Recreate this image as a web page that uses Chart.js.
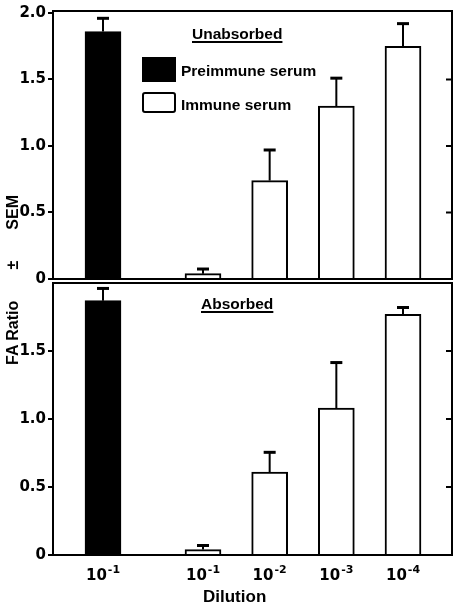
<!DOCTYPE html>
<html>
<head>
<meta charset="utf-8">
<script src="https://cdn.jsdelivr.net/npm/chart.js@4.4.1/dist/chart.umd.min.js"></script>
<style>
  html, body { margin: 0; padding: 0; background: #fff; }
  #wrap { position: relative; width: 455px; height: 607px; overflow: hidden;
          font-family: "Liberation Sans", Arial, sans-serif; font-weight: bold; color: #000; }
  #wrap canvas { position: absolute; left: 0; }
  #topChart { top: 0; }
  #botChart { top: 270px; }
  .lbl { position: absolute; line-height: 1; white-space: pre; }
  .panelTitle { font-size: 15.5px; text-decoration: underline; text-decoration-thickness: 2px; text-underline-offset: 2px; }
  .legText { font-size: 15.5px; }
  .box { position: absolute; box-sizing: border-box; }
</style>
</head>
<body>
<div id="wrap">
  <canvas id="topChart" width="455" height="290"></canvas>
  <canvas id="botChart" width="455" height="337"></canvas>

  <div class="lbl panelTitle" style="left:192px; top:26px;">Unabsorbed</div>
  <div class="lbl panelTitle" style="left:201px; top:296px;">Absorbed</div>

  <div class="box" style="left:142px; top:57px; width:34px; height:25px; background:#000;"></div>
  <div class="lbl legText" style="left:181px; top:63px;">Preimmune serum</div>
  <div class="box" style="left:142px; top:92px; width:34px; height:21px; border:2px solid #000; border-radius:3px;"></div>
  <div class="lbl legText" style="left:181px; top:97px;">Immune serum</div>

  <div class="lbl" style="left:13px; top:280px; font-size:16px; transform: translate(-50%, -50%) rotate(-90deg);">FA Ratio       ±       SEM</div>
  <div class="lbl" style="left:203px; top:588px; font-size:17px;">Dilution</div>
</div>

<script>
// Datos del gráfico
const dilutionBase = ['10', '10', '10', '10', '10'];
const dilutionExp = ['-1', '-1', '-2', '-3', '-4'];
const barSlots = [1, 2.5, 3.5, 4.5, 5.5];   // posición en el eje (hueco tras el preinmune)

// Panel superior: sin absorber
const preUnabs = [1.86];
const preUnabsErr = [0.10];
const immUnabs = [0.04, 0.74, 1.30, 1.75];
const immUnabsErr = [0.035, 0.23, 0.21, 0.17];

// Panel inferior: absorbido
const preAbs = [1.87];
const preAbsErr = [0.09];
const immAbs = [0.04, 0.61, 1.08, 1.77];
const immAbsErr = [0.03, 0.145, 0.335, 0.05];

// Ticks del eje Y
const topTickValues = [0, 0.5, 1, 1.5, 2];
const topTickLabels = ['0', '0.5', '1.0', '1.5', '2.0'];
const botTickValues = [0, 0.5, 1, 1.5];
const botTickLabels = ['0', '0.5', '1.0', '1.5'];

const numFont = { family: 'DejaVu Sans', weight: 'bold', size: 15 };

// Barras de error, marco y ticks interiores a la derecha
const frameAndErrors = {
  id: 'frameAndErrors',
  afterDatasetsDraw(chart) {
    const ctx = chart.ctx;
    const y = chart.scales.y;
    const a = chart.chartArea;
    ctx.save();
    ctx.strokeStyle = '#000';
    chart.data.datasets.forEach((ds, i) => {
      chart.getDatasetMeta(i).data.forEach((bar, j) => {
        const top = y.getPixelForValue(ds.data[j].y + ds.errors[j]);
        ctx.lineWidth = 2;
        ctx.beginPath();
        ctx.moveTo(bar.x, bar.y);
        ctx.lineTo(bar.x, top);
        ctx.stroke();
        ctx.lineWidth = 3;
        ctx.beginPath();
        ctx.moveTo(bar.x - 6, top);
        ctx.lineTo(bar.x + 6, top);
        ctx.stroke();
      });
    });
    ctx.lineWidth = 2;
    ctx.strokeRect(a.left, a.top, a.right - a.left, a.bottom - a.top);
    y.ticks.forEach(t => {
      if (t.value > 0 && t.value < 2) {
        const py = y.getPixelForValue(t.value);
        ctx.beginPath();
        ctx.moveTo(a.right - 6, py);
        ctx.lineTo(a.right, py);
        ctx.stroke();
      }
    });
    ctx.restore();
  }
};

// Etiquetas de dilución con exponente (10 elevado a -n)
const dilutionTicks = {
  id: 'dilutionTicks',
  afterDraw(chart) {
    const ctx = chart.ctx;
    const x = chart.scales.x;
    const base = chart.chartArea.bottom;
    ctx.save();
    ctx.fillStyle = '#000';
    ctx.textBaseline = 'alphabetic';
    barSlots.forEach((slot, i) => {
      const px = x.getPixelForValue(slot);
      ctx.font = 'bold 15px "DejaVu Sans"';
      const w1 = ctx.measureText(dilutionBase[i]).width;
      ctx.font = 'bold 11px "DejaVu Sans"';
      const w2 = ctx.measureText(dilutionExp[i]).width;
      const start = px - (w1 + 1 + w2) / 2;
      ctx.font = 'bold 15px "DejaVu Sans"';
      ctx.fillText(dilutionBase[i], start, base + 25);
      ctx.font = 'bold 11px "DejaVu Sans"';
      ctx.fillText(dilutionExp[i], start + w1 + 1, base + 18);
    });
    ctx.restore();
  }
};

function makeDatasets(pre, preErr, imm, immErr) {
  return [
    {
      label: 'Preimmune serum',
      data: pre.map((v, i) => ({ x: barSlots[i], y: v })),
      errors: preErr,
      backgroundColor: '#000',
      borderColor: '#000',
      borderWidth: 2,
      barThickness: 36,
      grouped: false
    },
    {
      label: 'Immune serum',
      data: imm.map((v, i) => ({ x: barSlots[i + 1], y: v })),
      errors: immErr,
      backgroundColor: '#fff',
      borderColor: '#000',
      borderWidth: 2,
      barThickness: 36,
      grouped: false
    }
  ];
}

function yAxis(values, labels, max) {
  return {
    min: 0,
    max: max,
    afterBuildTicks: s => { s.ticks = values.map(v => ({ value: v })); },
    afterFit: s => { s.width = 53; },
    ticks: {
      autoSkip: false,
      callback: (v, i) => labels[i],
      font: numFont,
      color: '#000',
      padding: 2
    },
    grid: { drawOnChartArea: false, tickLength: 5, lineWidth: 2, color: '#000' },
    border: { color: '#000', width: 2 }
  };
}

const commonOptions = {
  responsive: false,
  animation: false,
  plugins: { legend: { display: false }, tooltip: { enabled: false } }
};

// Gráfico superior
new Chart(document.getElementById('topChart'), {
  type: 'bar',
  data: { datasets: makeDatasets(preUnabs, preUnabsErr, immUnabs, immUnabsErr) },
  options: {
    ...commonOptions,
    layout: { padding: { top: 11, right: 3, bottom: 7, left: 0 } },
    scales: {
      x: { type: 'linear', min: 0.25, max: 6.235, offset: false, display: false },
      y: yAxis(topTickValues, topTickLabels, 2.015)
    }
  },
  plugins: [frameAndErrors]
});

// Gráfico inferior
new Chart(document.getElementById('botChart'), {
  type: 'bar',
  data: { datasets: makeDatasets(preAbs, preAbsErr, immAbs, immAbsErr) },
  options: {
    ...commonOptions,
    layout: { padding: { top: 13, right: 3, bottom: 0, left: 0 } },
    scales: {
      x: {
        type: 'linear',
        min: 0.25,
        max: 6.235,
        offset: false,
        afterFit: s => { s.height = 52; },
        ticks: { display: false },
        grid: { display: false },
        border: { display: false }
      },
      y: yAxis(botTickValues, botTickLabels, 2.0)
    }
  },
  plugins: [frameAndErrors, dilutionTicks]
});
</script>
</body>
</html>
